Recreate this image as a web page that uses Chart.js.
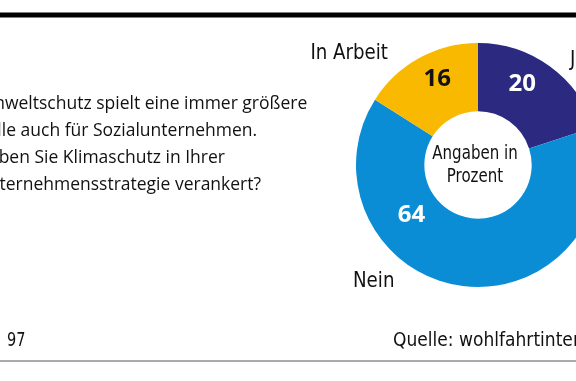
<!DOCTYPE html>
<html>
<head>
<meta charset="utf-8">
<script src="https://cdn.jsdelivr.net/npm/chart.js@4.4.1/dist/chart.umd.min.js"></script>
<style>
  html, body { margin: 0; padding: 0; background: #fff; overflow: hidden; }
  #wrap { position: relative; width: 576px; height: 381px; overflow: hidden; }
  canvas { position: absolute; left: 0; top: 0; }
</style>
</head>
<body>
<div id="wrap"><canvas id="chart" width="600" height="381"></canvas></div>
<script>
// Daten
const categories = ['Ja', 'Nein', 'In Arbeit'];
const values = [20, 64, 16];
const question = [
  'Umweltschutz spielt eine immer größere',
  'Rolle auch für Sozialunternehmen.',
  'Haben Sie Klimaschutz in Ihrer',
  'Unternehmensstrategie verankert?'
];
const centerText = ['Angaben in', 'Prozent'];
const sampleText = '97';
const sourceText = 'Quelle: wohlfahrtintern.de';

const colors = ['#2c2a80', '#0b8dd6', '#f8b900'];
const valueColors = ['#ffffff', '#ffffff', '#111111'];

const narrow = '"Liberation Sans Narrow", "DejaVu Sans Condensed", sans-serif';
const humanist = '"Open Sans", "Noto Sans", sans-serif';

// Beschriftungen der Kategorien (neben dem Ring)
const catLabels = [
  { x: 570, y: 66, align: 'left' },
  { x: 353, y: 287, align: 'left' },
  { x: 388, y: 59, align: 'right' }
];
// Lage der Zahlen im Segment: Anteil Winkel / Anteil Radius
const valuePos = [
  { a: 0.40, r: 0.56 },
  { a: 0.70, r: 0.43 },
  { a: 0.56, r: 0.61 }
];

// schmal gesetzter Text (horizontal gestaucht)
function squeezed(ctx, text, x, y, sx) {
  ctx.save();
  ctx.translate(x, y);
  ctx.scale(sx, 1);
  ctx.fillText(text, 0, 0);
  ctx.restore();
}

const decor = {
  id: 'decor',
  afterDraw(chart) {
    const ctx = chart.ctx;
    const meta = chart.getDatasetMeta(0);
    ctx.save();

    // Linien oben und unten
    ctx.fillStyle = '#000';
    ctx.fillRect(0, 12.5, 600, 5);
    ctx.fillStyle = '#aaaaaa';
    ctx.fillRect(0, 360, 600, 2);

    // Frage
    ctx.fillStyle = '#111';
    ctx.font = '17.5px ' + humanist;
    ctx.textAlign = 'left';
    ctx.textBaseline = 'alphabetic';
    question.forEach((line, i) => ctx.fillText(line, -24, 109 + i * 27));

    // Fußzeile
    ctx.font = '19px ' + narrow;
    squeezed(ctx, sampleText, 7, 346, 0.85);
    squeezed(ctx, sourceText, 393, 346, 1);

    // Kategorien
    ctx.font = '22px ' + narrow;
    categories.forEach((c, i) => {
      ctx.textAlign = catLabels[i].align;
      squeezed(ctx, c, catLabels[i].x, catLabels[i].y, 0.92);
    });

    // Werte in den Segmenten
    ctx.font = 'bold 24px ' + humanist;
    ctx.textAlign = 'center';
    ctx.textBaseline = 'middle';
    meta.data.forEach((arc, i) => {
      const p = arc.getProps(['x', 'y', 'startAngle', 'endAngle', 'innerRadius', 'outerRadius'], true);
      const ang = p.startAngle + (p.endAngle - p.startAngle) * valuePos[i].a;
      const rad = p.innerRadius + (p.outerRadius - p.innerRadius) * valuePos[i].r;
      ctx.fillStyle = valueColors[i];
      ctx.fillText(String(values[i]), p.x + Math.cos(ang) * rad, p.y + Math.sin(ang) * rad);
    });

    // Mitte
    const c = meta.data[0];
    ctx.fillStyle = '#111';
    ctx.font = '19px ' + narrow;
    squeezed(ctx, centerText[0], c.x - 3, c.y - 11, 0.88);
    squeezed(ctx, centerText[1], c.x - 3, c.y + 12, 0.88);

    ctx.restore();
  }
};

new Chart(document.getElementById('chart'), {
  type: 'doughnut',
  data: {
    labels: categories,
    datasets: [{
      data: values,
      backgroundColor: colors,
      borderWidth: 0
    }]
  },
  options: {
    responsive: false,
    animation: false,
    cutout: '44%',
    layout: { padding: { left: 356, top: 43, right: 0, bottom: 94 } },
    plugins: {
      legend: { display: false },
      tooltip: { enabled: false }
    }
  },
  plugins: [decor]
});
</script>
</body>
</html>
